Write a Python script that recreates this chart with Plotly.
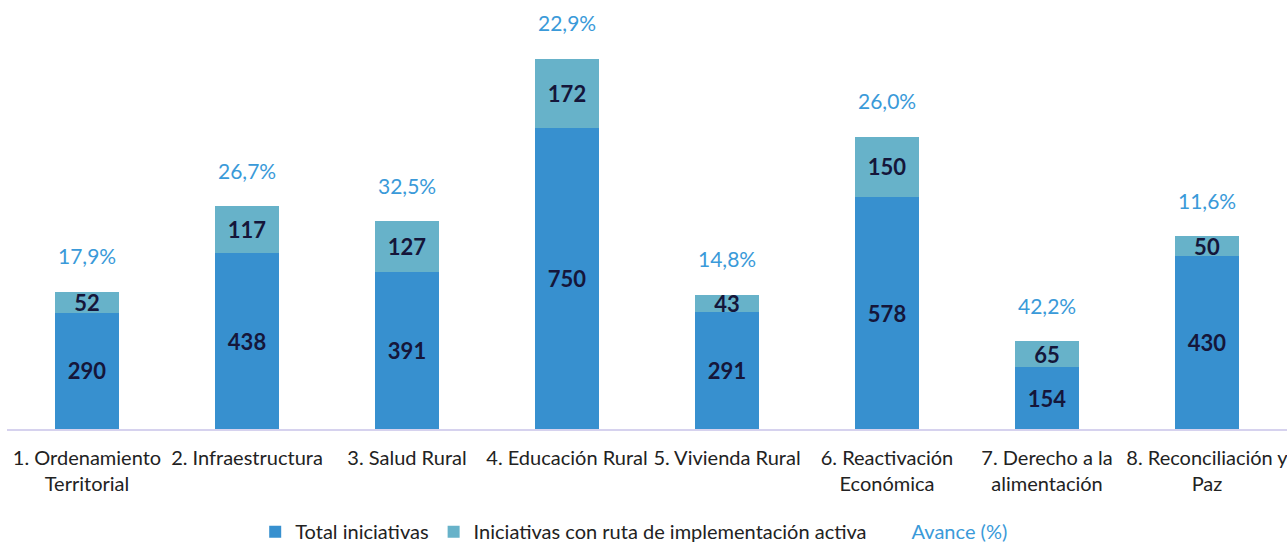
import plotly.graph_objects as go

# ── Data ─────────────────────────────────────────────────────────────────────
categorias = [
    "1. Ordenamiento<br>Territorial",
    "2. Infraestructura",
    "3. Salud Rural",
    "4. Educación Rural",
    "5. Vivienda Rural",
    "6. Reactivación<br>Económica",
    "7. Derecho a la<br>alimentación",
    "8. Reconciliación y<br>Paz",
]
total_iniciativas = [290, 438, 391, 750, 291, 578, 154, 430]
ruta_activa = [52, 117, 127, 172, 43, 150, 65, 50]
avance_pct = [17.9, 26.7, 32.5, 22.9, 14.8, 26.0, 42.2, 11.6]

# ── Styles ───────────────────────────────────────────────────────────────────
c_total = "#3790cf"
c_ruta = "#67b2c9"
c_avance = "#3a9ad9"
c_label = "#15163a"
font = "Lato"

apilado = [t + r for t, r in zip(total_iniciativas, ruta_activa)]

fig = go.Figure()
fig.add_trace(go.Bar(
    x=categorias, y=total_iniciativas, name="Total iniciativas",
    marker=dict(color=c_total, line=dict(width=0)),
    text=total_iniciativas, textposition="inside", insidetextanchor="middle", textangle=0,
    textfont=dict(family=font, size=22, color=c_label, weight="bold"),
))
fig.add_trace(go.Bar(
    x=categorias, y=ruta_activa, name="Iniciativas con ruta de implementación activa",
    marker=dict(color=c_ruta, line=dict(width=0)),
    text=ruta_activa, textposition="inside", insidetextanchor="middle", textangle=0,
    textfont=dict(family=font, size=22, color=c_label, weight="bold"),
))
# legend entry only, the values go in annotations above each bar
fig.add_trace(go.Scatter(
    x=categorias, y=apilado, mode="lines",
    name=f"<span style='color:{c_avance}'>Avance (%)</span>",
    line=dict(color="rgba(0,0,0,0)", width=0), hoverinfo="skip",
))

for cat, y, p in zip(categorias, apilado, avance_pct):
    fig.add_annotation(
        x=cat, y=y, text=f"{p:.1f}".replace(".", ",") + "%",
        showarrow=False, yshift=36,
        font=dict(family=font, size=21, color=c_avance),
    )

fig.update_layout(
    barmode="stack", bargap=0.6,
    width=1287, height=542,
    margin=dict(l=7, r=0, t=10, b=113, autoexpand=False),
    plot_bgcolor="white", paper_bgcolor="white",
    font=dict(family=font, size=20, color="#222222"),
    uniformtext=dict(minsize=22, mode="show"),
    legend=dict(orientation="h", x=0.49, xanchor="center", y=-0.245, yanchor="middle",
                font=dict(size=20), itemwidth=30, traceorder="normal"),
)
fig.update_xaxes(showline=True, linecolor="#d6d2ee", linewidth=2, ticks="",
                 tickfont=dict(size=20, color="#222222"), automargin=False,
                 ticklabelstandoff=10)
fig.update_yaxes(range=[0, 1044], visible=False, showgrid=False)

fig.write_html("out.html", config={"displayModeBar": False},
               post_script="document.body.style.margin='0';")
